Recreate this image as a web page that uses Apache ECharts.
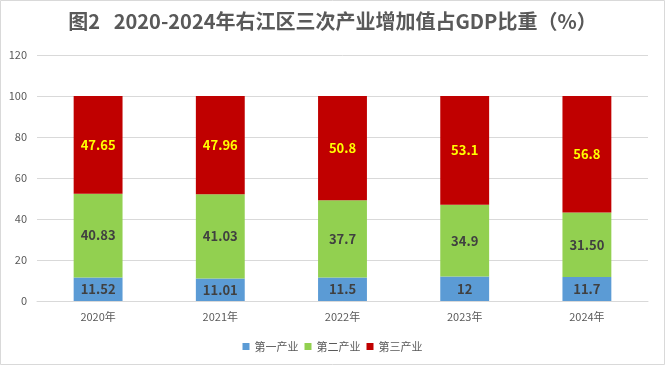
<!DOCTYPE html>
<html><head><meta charset="utf-8">
<script src="https://cdn.jsdelivr.net/npm/echarts@6/dist/echarts.min.js"></script>
<style>html,body{margin:0;padding:0;background:#fff}#c{width:665px;height:365px}</style>
</head><body><div id="c"></div>
<script>
var categories = ['2020年','2021年','2022年','2023年','2024年'];
var primary = [11.52, 11.01, 11.5, 12, 11.7];
var secondary = [40.83, 41.03, 37.7, 34.9, 31.50];
var tertiary = [47.65, 47.96, 50.8, 53.1, 56.8];
var primaryLabels = ['11.52','11.01','11.5','12','11.7'];
var secondaryLabels = ['40.83','41.03','37.7','34.9','31.50'];
var tertiaryLabels = ['47.65','47.96','50.8','53.1','56.8'];
var yTicks = [0, 20, 40, 60, 80, 100, 120];

var FONT = '"Noto Sans CJK SC", "Microsoft YaHei", sans-serif';
var chart = echarts.init(document.getElementById('c'), null, {renderer:'canvas'});
function lbl(arr, color) {
  return {show:true, position:'inside', color:color, fontSize:13, fontWeight:'bold', fontFamily:FONT,
    formatter:function(p){return arr[p.dataIndex];}};
}
chart.setOption({
  animation:false,
  backgroundColor:'#fff',
  textStyle:{fontFamily:FONT},
  graphic:[{type:'rect', shape:{x:0.5,y:0.5,width:664,height:364}, style:{fill:'none', stroke:'#d9d9d9', lineWidth:1}, silent:true}],
  title:{text:'图2   2020-2024年右江区三次产业增加值占GDP比重（%）', left:'center', top:6,
    textStyle:{fontSize:20, fontWeight:'bold', color:'#595959', fontFamily:FONT}},
  legend:{bottom:8, left:'center', itemWidth:7, itemHeight:7, itemGap:6, icon:'rect',
    textStyle:{fontSize:11, color:'#595959', fontFamily:FONT},
    data:['第一产业','第二产业','第三产业']},
  grid:{left:37, right:17, top:55, bottom:64},
  xAxis:{type:'category', data:categories,
    axisLine:{lineStyle:{color:'#d9d9d9'}}, axisTick:{show:false},
    axisLabel:{color:'#595959', fontSize:11, margin:10, fontFamily:FONT}},
  yAxis:{type:'value', min:yTicks[0], max:yTicks[yTicks.length-1], interval:20,
    axisLine:{show:false}, axisTick:{show:false},
    splitLine:{lineStyle:{color:'#d9d9d9'}},
    axisLabel:{color:'#595959', fontSize:11, margin:10, fontFamily:FONT}},
  series:[
    {name:'第一产业', type:'bar', stack:'s', data:primary, barWidth:'40%', itemStyle:{color:'#5B9BD5'}, label:lbl(primaryLabels,'#404040')},
    {name:'第二产业', type:'bar', stack:'s', data:secondary, barWidth:'40%', itemStyle:{color:'#92D050'}, label:lbl(secondaryLabels,'#404040')},
    {name:'第三产业', type:'bar', stack:'s', data:tertiary, barWidth:'40%', itemStyle:{color:'#C00000'}, label:lbl(tertiaryLabels,'#FFFF00')}
  ]
});
</script></body></html>
